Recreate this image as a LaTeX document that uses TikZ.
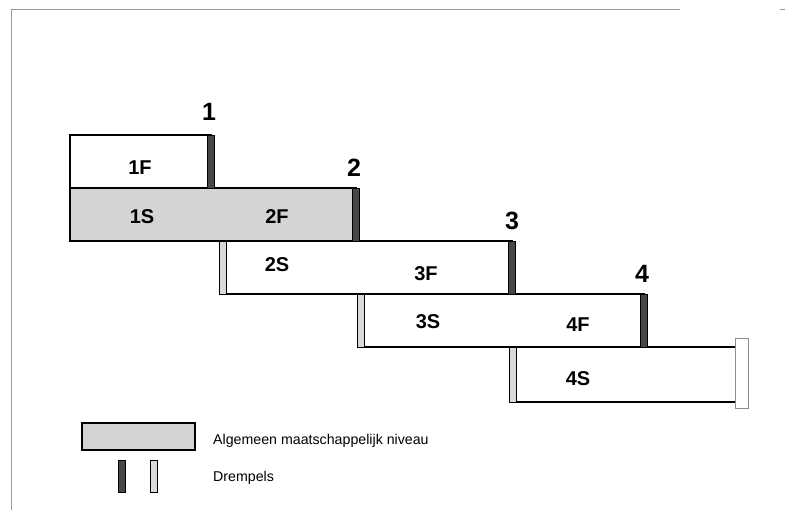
\documentclass[tikz,border=0pt]{standalone}
\usepackage{fontspec}
\setmainfont{Liberation Sans}
\begin{document}
\begin{tikzpicture}[x=1pt,y=-1pt,
  boxline/.style={draw=black, line width=1.7pt, line join=miter},
  grayfill/.style={fill=black!17},
  darkbar/.style={draw=black, line width=0.9pt, fill=black!72},
  lightbar/.style={draw=black, line width=0.9pt, fill=black!15},
  endbar/.style={draw=black!45, line width=0.6pt, fill=white},
  lab/.style={font=\fontsize{20}{20}\selectfont\bfseries, inner sep=0pt},
  num/.style={font=\fontsize{25}{25}\selectfont\bfseries, inner sep=0pt},
  legtext/.style={font=\fontsize{14.2}{14.2}\selectfont, anchor=west, inner sep=0pt},
  frameline/.style={draw=black!40, line width=0.6pt}]
\useasboundingbox (0,0) rectangle (796,510);
% scan frame
\draw[frameline] (11,510) -- (11,9) -- (680,9);
\draw[frameline] (780,9) -- (785,9);
% boxes
\draw[boxline] (70,135) rectangle (211,188);
\draw[boxline, grayfill] (70,188) rectangle (356,241);
\draw[boxline] (222,241) rectangle (512,294);
\draw[boxline] (360,294) rectangle (644,347);
\draw[boxline] (735,347) -- (512,347) -- (512,402) -- (735,402);
% thresholds
\draw[darkbar] (207,135) rectangle (214,188);
\draw[darkbar] (352,188) rectangle (359,241);
\draw[darkbar] (508,241) rectangle (515,294);
\draw[darkbar] (640,294) rectangle (647,347);
\draw[lightbar] (219,241) rectangle (226,294);
\draw[lightbar] (357,294) rectangle (364,347);
\draw[lightbar] (509,347) rectangle (516,402);
\draw[endbar] (735,338) rectangle (748,408);
% numbers
\node[num] (n1) at (209,112) {1};
\node[num] (n2) at (354,168) {2};
\node[num] (n3) at (512,221) {3};
\node[num] (n4) at (642,274) {4};
% labels
\node[lab] (l1F) at (140,168) {1F};
\node[lab] (l1S) at (142,217) {1S};
\node[lab] (l2F) at (277,217) {2F};
\node[lab] (l2S) at (277,265) {2S};
\node[lab] (l3F) at (426,274) {3F};
\node[lab] (l3S) at (428,322) {3S};
\node[lab] (l4F) at (578,325) {4F};
\node[lab] (l4S) at (578,379) {4S};
% legend
\draw[draw=black, line width=1.4pt, grayfill] (82,423) rectangle (195,450);
\draw[darkbar] (118,460) rectangle (125,492);
\draw[lightbar] (150,460) rectangle (157,492);
\node[legtext] (leg1) at (213,441) {Algemeen maatschappelijk niveau};
\node[legtext] (leg2) at (213,478) {Drempels};
\end{tikzpicture}
\end{document}
